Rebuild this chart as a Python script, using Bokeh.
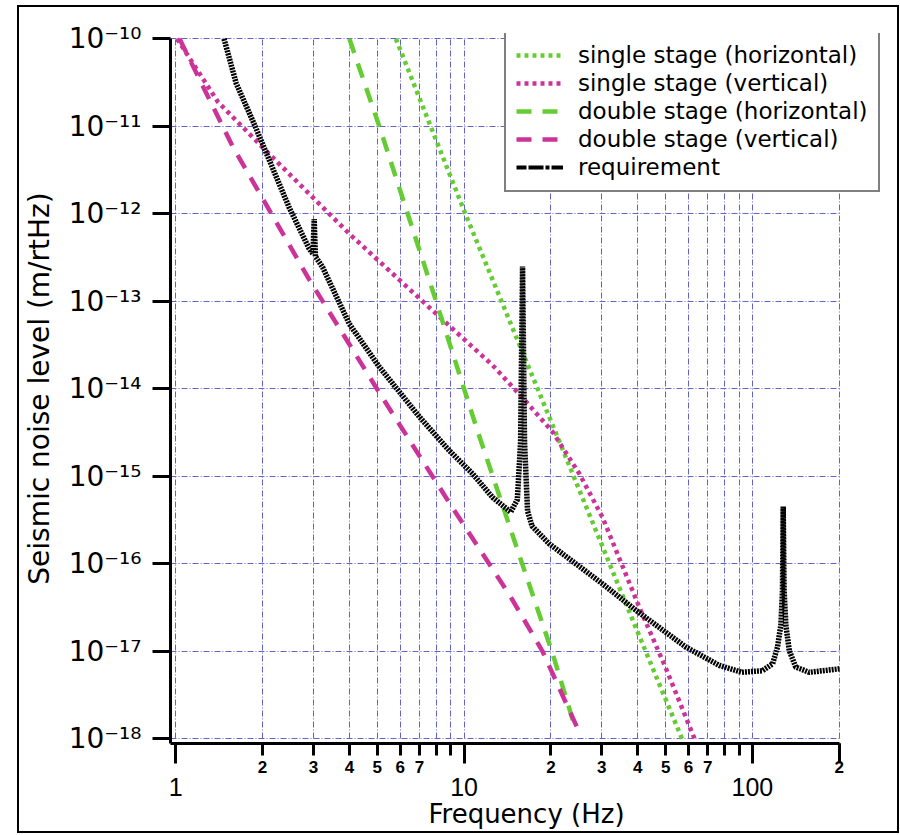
from bokeh.plotting import figure
from bokeh.models import FixedTicker, LogAxis, Legend, LegendItem, Range1d
from bokeh.embed import file_html
from bokeh.resources import INLINE

# ---------------- data ----------------
# single stage (horizontal)
freq_single_h = [5.8, 10.1, 21.4, 38.5, 57.0]
noise_single_h = [1.0e-10, 1.0e-12, 2.5e-15, 2.24e-17, 1.0e-18]

# single stage (vertical)
freq_single_v = [1.01, 1.4, 2.0, 4.0, 8.0, 12.55, 15.95, 20.3, 25.1, 30.2, 40.5, 49.9, 63.0]
noise_single_v = [1.0e-10, 1.9e-11, 5.75e-12, 5.9e-13, 7.2e-14, 1.86e-14, 7.9e-15,
                  3.2e-15, 1.07e-15, 3.4e-16, 3.2e-17, 6.6e-18, 1.0e-18]

# double stage (horizontal)
freq_double_h = [4.0, 5.08, 7.98, 11.1, 15.9, 20.3, 24.4]
noise_double_h = [1.0e-10, 1.0e-11, 1.02e-13, 3.4e-15, 1.0e-16, 9.3e-18, 1.26e-18]

# double stage (vertical)
freq_double_v = [1.03, 1.57, 2.9, 5.21, 8.88, 14.5, 18.7, 25.3]
noise_double_v = [1.0e-10, 6.0e-12, 1.78e-13, 7.9e-15, 5.0e-16, 4.2e-17, 1.0e-17, 1.12e-18]

# requirement
freq_req = [1.47, 1.62, 1.89, 2.11, 2.47, 2.90, 2.99, 3.02, 3.05, 3.23, 4.0, 5.08,
            6.99, 8.88, 10.7, 12.55, 14.5, 15.3, 15.7, 15.95, 16.2, 16.6, 17.2, 19.7,
            30.2, 39.4, 58.7, 76.7, 91.8, 108.4, 117.5, 122.2, 125.5, 127.1, 127.9,
            128.8, 130.6, 134.2, 141.3, 157.3, 200.0]
noise_req = [1.0e-10, 3.1e-11, 9.8e-12, 4.1e-12, 1.19e-12, 4.0e-13, 3.5e-13,
             8.7e-13, 3.25e-13, 2.45e-13, 5.5e-14, 1.78e-14, 4.8e-15, 1.97e-15, 1.07e-15,
             5.75e-16, 3.9e-16, 5.4e-16, 2.5e-15, 2.5e-13, 2.5e-15, 4.0e-16, 2.7e-16,
             1.7e-16, 5.9e-17, 2.95e-17, 1.12e-17, 6.9e-18, 5.75e-18, 6.0e-18, 7.2e-18,
             1.12e-17, 2.0e-17, 4.9e-17, 4.5e-16, 5.0e-17, 2.0e-17, 1.02e-17, 6.6e-18,
             5.75e-18, 6.3e-18]

legend_labels = ["single stage (horizontal)", "single stage (vertical)",
                 "double stage (horizontal)", "double stage (vertical)", "requirement"]

# axis ticks / labels
y_ticks = [1e-18, 1e-17, 1e-16, 1e-15, 1e-14, 1e-13, 1e-12, 1e-11, 1e-10]
y_tick_labels = ["10\u207b\u00b9\u2078", "10\u207b\u00b9\u2077", "10\u207b\u00b9\u2076",
                 "10\u207b\u00b9\u2075", "10\u207b\u00b9\u2074", "10\u207b\u00b9\u00b3",
                 "10\u207b\u00b9\u00b2", "10\u207b\u00b9\u00b9", "10\u207b\u00b9\u2070"]
x_small_ticks = [2, 3, 4, 5, 6, 7, 8, 9, 20, 30, 40, 50, 60, 70, 80, 90, 200]
x_small_labels = ["2", "3", "4", "5", "6", "7", "", "", "2", "3", "4", "5", "6", "7", "", "", "2"]
x_decade_ticks = [1, 10, 100, 200]
x_decade_label_ticks = [1, 10, 100]
x_decade_labels = ["1", "10", "100"]
x_grid_ticks = [1, 2, 3, 4, 5, 6, 7, 8, 9, 10, 20, 30, 40, 50, 60, 70, 80, 90, 100, 200]
x_limits = (0.9586, 200)       # extent of the frequency axis
y_limits = (8.83e-19, 1e-10)   # extent of the noise axis

GREEN = "#66cc33"
MAGENTA = "#cc3399"
GRID = "#6464c8"

p = figure(
    x_axis_type="log", y_axis_type="log",
    x_range=Range1d(x_limits[0], 282.6), y_range=Range1d(y_limits[0], 1.15e-10),
    frame_width=712, frame_height=710,
    min_border_left=149, min_border_right=15, min_border_top=26, min_border_bottom=0,
    output_backend="svg", toolbar_location=None,
    background_fill_color="white", border_fill_color="white",
    outline_line_color=None,
    styles={"margin-left": "17px", "margin-top": "5px", "border": "2px solid black"},
)

# grid
p.xgrid.ticker = FixedTicker(ticks=x_grid_ticks)
p.ygrid.ticker = FixedTicker(ticks=y_ticks)
p.xgrid.cross_bounds = (1e-18, y_limits[1])
p.ygrid.cross_bounds = x_limits
p.grid.grid_line_color = GRID
p.grid.grid_line_dash = "6 2 1 2"
p.grid.grid_line_width = 1

# y axis
ya = p.yaxis[0]
ya.bounds = y_limits
ya.ticker = FixedTicker(ticks=y_ticks, minor_ticks=[])
ya.major_label_overrides = dict(zip(y_ticks, y_tick_labels))
ya.axis_line_width = 3
ya.axis_line_color = "black"
ya.major_tick_out = 18
ya.major_tick_in = 0
ya.major_tick_line_width = 3
ya.minor_tick_line_color = None
ya.major_label_standoff = 11
ya.major_label_text_font = "DejaVu Sans"
ya.major_label_text_font_size = "28px"
ya.major_label_text_color = "black"
ya.axis_label = "Seismic noise level (m/rtHz)"
ya.axis_label_text_font = "DejaVu Sans"
ya.axis_label_text_font_size = "28px"
ya.axis_label_text_font_style = "normal"
ya.axis_label_text_color = "black"
ya.axis_label_standoff = 10

# x axis A: line, ticks and small digit labels
xa = p.xaxis[0]
xa.bounds = x_limits
xa.ticker = FixedTicker(ticks=x_small_ticks, minor_ticks=x_decade_ticks)
xa.major_label_overrides = dict(zip(x_small_ticks, x_small_labels))
xa.axis_line_width = 3
xa.axis_line_color = "black"
xa.major_tick_out = 12
xa.major_tick_in = 0
xa.minor_tick_out = 20
xa.minor_tick_in = 0
xa.major_tick_line_width = 3
xa.minor_tick_line_width = 3
xa.minor_tick_line_color = "black"
xa.major_label_standoff = -3
xa.major_label_text_font = "Liberation Sans"
xa.major_label_text_font_style = "bold"
xa.major_label_text_font_size = "17px"
xa.major_label_text_color = "black"

# x axis B: decade labels and title
xb = LogAxis(
    ticker=FixedTicker(ticks=x_decade_label_ticks, minor_ticks=[]),
    major_label_overrides=dict(zip(x_decade_label_ticks, x_decade_labels)),
    axis_line_color=None, major_tick_line_color=None, minor_tick_line_color=None,
    major_tick_out=0, major_tick_in=0, minor_tick_out=0, minor_tick_in=0,
    major_label_standoff=2,
    major_label_text_font="Liberation Sans", major_label_text_font_size="25px",
    major_label_text_color="black",
    axis_label="Frequency (Hz)", axis_label_text_font="DejaVu Sans",
    axis_label_text_font_size="26px", axis_label_text_font_style="normal",
    axis_label_text_color="black", axis_label_standoff=0,
)
p.add_layout(xb, "below")

# curves
r_sh = p.line(freq_single_h, noise_single_h, line_color=GREEN, line_width=4.5, line_dash="4 4")
r_sv = p.line(freq_single_v, noise_single_v, line_color=MAGENTA, line_width=4.5, line_dash="4 4")
r_dh = p.line(freq_double_h, noise_double_h, line_color=GREEN, line_width=4.5, line_dash="15 11")
r_dv = p.line(freq_double_v, noise_double_v, line_color=MAGENTA, line_width=4.5, line_dash="15 11")
r_rq = p.line(freq_req, noise_req, line_color="black", line_width=5.5, line_dash="2 1")
# key-only renderer: gives the dash-dot swatch used for "requirement" in the legend
r_rq_key = p.line(freq_req, noise_req, line_color="black", line_width=4,
                  line_dash="10 2 15 2 4 2 12", visible=False)

legend = Legend(
    items=[LegendItem(label=legend_labels[0], renderers=[r_sh]),
           LegendItem(label=legend_labels[1], renderers=[r_sv]),
           LegendItem(label=legend_labels[2], renderers=[r_dh]),
           LegendItem(label=legend_labels[3], renderers=[r_dv]),
           LegendItem(label=legend_labels[4], renderers=[r_rq_key])],
    location=(334, 551), margin=0, padding=10, spacing=2,
    glyph_width=47, glyph_height=26, label_height=26,
    label_standoff=15,
    label_text_font="DejaVu Sans", label_text_font_size="23px", label_text_color="black",
    border_line_color="black", border_line_width=2,
    background_fill_color="white", background_fill_alpha=1.0,
    inactive_fill_alpha=0.0,
)
p.add_layout(legend)

open("out.html", "w").write(file_html(p, INLINE))
